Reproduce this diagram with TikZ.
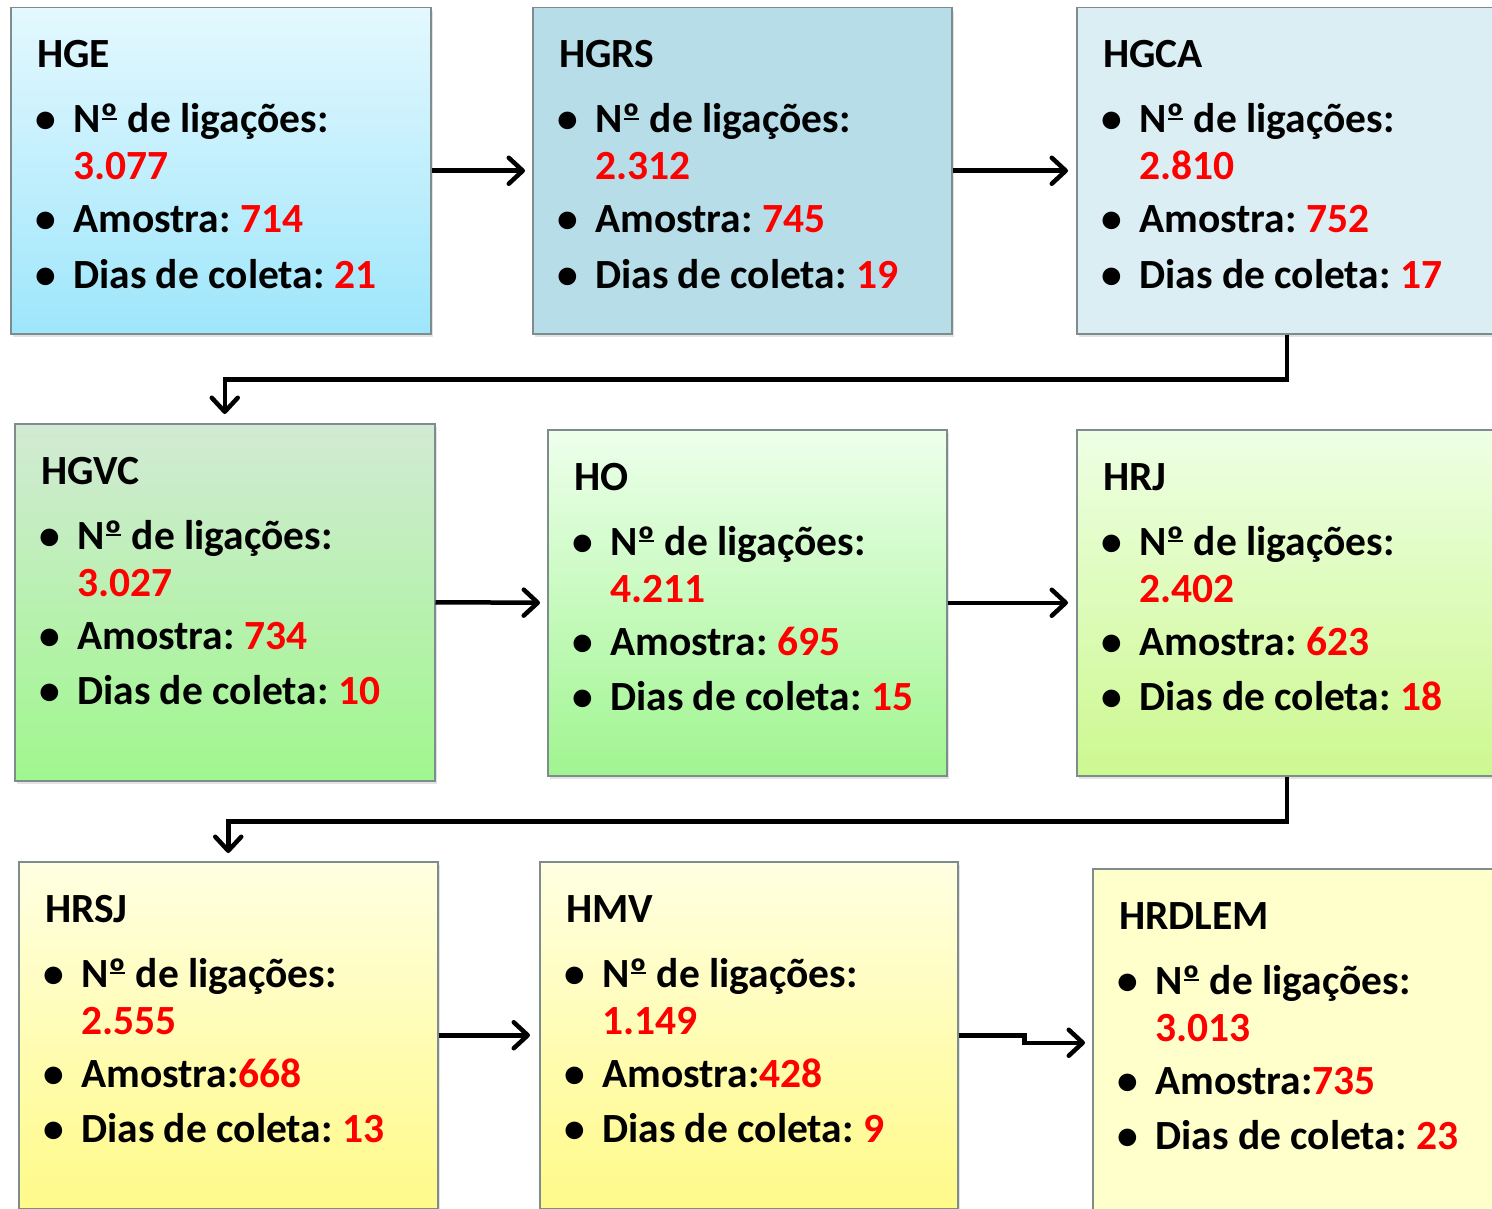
\documentclass[tikz,border=0pt]{standalone}
\usepackage{fontspec}
\setmainfont{Carlito}
\usetikzlibrary{arrows.meta,calc,shadows}
\frenchspacing
\definecolor{boxborder}{HTML}{7F8C8D}
\definecolor{numred}{HTML}{FF0000}
\definecolor{hgeT}{HTML}{E4F8FE}
\definecolor{hgeB}{HTML}{9EE6FB}
\definecolor{hgrsC}{HTML}{B7DDE8}
\definecolor{hgcaC}{HTML}{DBEEF4}
\definecolor{hgvcT}{HTML}{D2EAD4}
\definecolor{hgvcB}{HTML}{A0F78E}
\definecolor{hoT}{HTML}{EEFFEC}
\definecolor{hoB}{HTML}{A0F590}
\definecolor{hrjT}{HTML}{EEFFE4}
\definecolor{hrjB}{HTML}{CDF890}
\definecolor{yelT}{HTML}{FFFFE2}
\definecolor{yelB}{HTML}{FFFA88}
\definecolor{hrdC}{HTML}{FFFFCC}
\newcommand\bodyfnt{\bfseries\fontsize{41.5}{48}\selectfont}
\newcommand\ordsign{\setbox0\hbox{º}\rlap{\kern0.03em\raisebox{0.31em}{\rule{\dimexpr\wd0-0.06em\relax}{0.05em}}}\box0}
\tikzset{
  hbox/.style={draw=boxborder, line width=1.5pt, rectangle, inner sep=0pt, anchor=north west,
    drop shadow={shadow xshift=2pt, shadow yshift=-3pt, opacity=0.22}},
  txt/.style={inner sep=0pt, anchor=base west, font=\bodyfnt},
  bul/.style={inner sep=0pt, anchor=base, font=\bodyfnt},
  conn/.style={line width=4.5pt, -{Straight Barb[length=14pt,width=26pt,round]}}
}
% #1 name, #2 x, #3 y, #4 w, #5 h, #6 top colour, #7 bottom colour
\newcommand\hospbox[7]{%
  \node[hbox, minimum width=#4pt, minimum height=#5pt, top color=#6, bottom color=#7] (#1) at (#2,#3) {};}
% #1 name, #2 title, #3 number, #4 amostra (with separator), #5 dias
\newcommand\hosptext[5]{%
  \node[txt] (#1-t) at ($(#1.north west)+(27,61)$) {#2};
  \node[bul] (#1-b1) at ($(#1.north west)+(36,126)$) {•};
  \node[txt] (#1-l1) at ($(#1.north west)+(63,126)$) {N\ordsign{} de ligações:};
  \node[txt, text=numred] (#1-n) at ($(#1.north west)+(63,173)$) {#3};
  \node[bul] (#1-b2) at ($(#1.north west)+(36,226)$) {•};
  \node[txt] (#1-l2) at ($(#1.north west)+(63,226)$) {#4};
  \node[bul] (#1-b3) at ($(#1.north west)+(36,281)$) {•};
  \node[txt] (#1-l3) at ($(#1.north west)+(63,281)$) {Dias de coleta: \textcolor{numred}{#5}};}
\begin{document}
\begin{tikzpicture}[x=1pt,y=-1pt]
\clip (0,0) rectangle (1492,1209);
\fill[white] (0,0) rectangle (1492,1209);
% row 1
\hospbox{hge}{10}{7}{420}{326}{hgeT}{hgeB}
\hospbox{hgrs}{532}{7}{419}{326}{hgrsC}{hgrsC}
\hospbox{hgca}{1076}{7}{420}{326}{hgcaC}{hgcaC}
% row 2
\hospbox{hgvc}{14}{423}{420}{357}{hgvcT}{hgvcB}
\hospbox{ho}{547}{429}{399}{346}{hoT}{hoB}
\hospbox{hrj}{1076}{429}{420}{346}{hrjT}{hrjB}
% row 3
\hospbox{hrsj}{18}{861}{419}{347}{yelT}{yelB}
\hospbox{hmv}{539}{861}{418}{347}{yelT}{yelB}
\hospbox{hrdlem}{1092}{868}{420}{348}{hrdC}{hrdC}

\hosptext{hge}{HGE}{3.077}{Amostra: \textcolor{numred}{714}}{21}
\hosptext{hgrs}{HGRS}{2.312}{Amostra: \textcolor{numred}{745}}{19}
\hosptext{hgca}{HGCA}{2.810}{Amostra: \textcolor{numred}{752}}{17}
\hosptext{hgvc}{HGVC}{3.027}{Amostra: \textcolor{numred}{734}}{10}
\hosptext{ho}{HO}{4.211}{Amostra: \textcolor{numred}{695}}{15}
\hosptext{hrj}{HRJ}{2.402}{Amostra: \textcolor{numred}{623}}{18}
\hosptext{hrsj}{HRSJ}{2.555}{Amostra:\textcolor{numred}{668}}{13}
\hosptext{hmv}{HMV}{1.149}{Amostra:\textcolor{numred}{428}}{9}
\hosptext{hrdlem}{HRDLEM}{3.013}{Amostra:\textcolor{numred}{735}}{23}

% connectors
\draw[conn, shorten >=7pt] (hge.east) -- (hgrs.west);
\draw[conn, shorten >=8pt] (hgrs.east) -- (hgca.west);
\draw[conn, shorten >=9pt] (hgca.south) -- ++(0,45) -| (hgvc.north);
\draw[conn, shorten >=7pt] (hgvc.east) -- (ho.west);
\draw[conn, shorten >=8pt] (ho.east) -- (hrj.west);
\draw[conn, shorten >=8pt] (hrj.south) -- ++(0,45) -| (hrsj.north);
\draw[conn, shorten >=9pt] (hrsj.east) -- (hmv.west);
\draw[conn, shorten >=7pt] (hmv.east) -- ++(66,0) |- (hrdlem.west);
\end{tikzpicture}
\end{document}
